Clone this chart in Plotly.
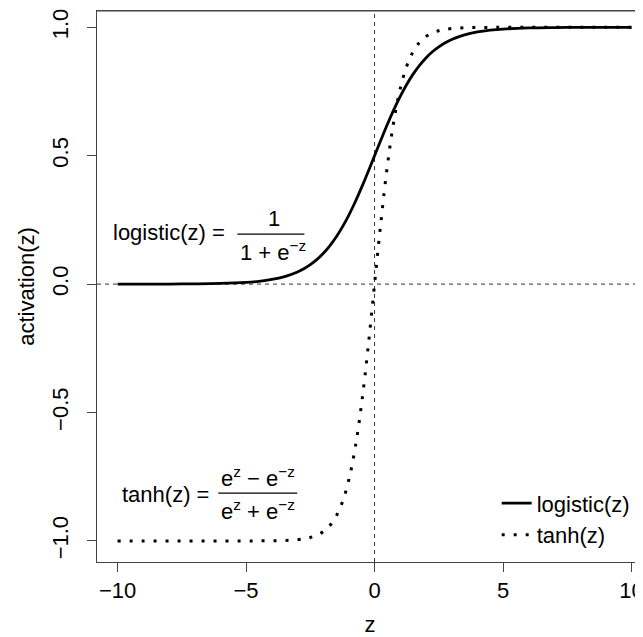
import plotly.graph_objects as go

# sampled readings of the two curves
z = [-10, -9, -8, -7, -6, -5, -4.5, -4, -3.5, -3, -2.75, -2.5, -2.25, -2, -1.75, -1.5, -1.25, -1,
     -0.75, -0.5, -0.25, 0, 0.25, 0.5, 0.75, 1, 1.25, 1.5, 1.75, 2, 2.25, 2.5, 2.75, 3, 3.5, 4,
     4.5, 5, 6, 7, 8, 9, 10]
logistic_vals = [0.0000, 0.0001, 0.0003, 0.0009, 0.0025, 0.0067, 0.0110, 0.0180, 0.0293, 0.0474,
                 0.0601, 0.0759, 0.0953, 0.1192, 0.1480, 0.1824, 0.2227, 0.2689, 0.3208, 0.3775,
                 0.4378, 0.5000, 0.5622, 0.6225, 0.6792, 0.7311, 0.7773, 0.8176, 0.8520, 0.8808,
                 0.9047, 0.9241, 0.9399, 0.9526, 0.9707, 0.9820, 0.9890, 0.9933, 0.9975, 0.9991,
                 0.9997, 0.9999, 1.0000]
tanh_vals = [-1.0000, -1.0000, -1.0000, -1.0000, -1.0000, -0.9999, -0.9998, -0.9993, -0.9982,
             -0.9951, -0.9919, -0.9866, -0.9780, -0.9640, -0.9414, -0.9051, -0.8483, -0.7616,
             -0.6351, -0.4621, -0.2449, 0.0000, 0.2449, 0.4621, 0.6351, 0.7616, 0.8483, 0.9051,
             0.9414, 0.9640, 0.9780, 0.9866, 0.9919, 0.9951, 0.9982, 0.9993, 0.9998, 0.9999,
             1.0000, 1.0000, 1.0000, 1.0000, 1.0000]

x_ticks = [-10, -5, 0, 5, 10]
x_ticktext = ["\u221210", "\u22125", "0", "5", "10"]
y_ticks = [-1.0, -0.5, 0.0, 0.5, 1.0]
y_ticktext = ["\u22121.0", "\u22120.5", "0.0", "0.5", "1.0"]

FONT = "Liberation Sans, Arial, Helvetica, sans-serif"
FS = 22

fig = go.Figure()
fig.add_trace(go.Scatter(x=z, y=logistic_vals, mode="lines", name="logistic(z)",
                         line=dict(color="black", width=2.8, shape="spline")))
fig.add_trace(go.Scatter(x=z, y=tanh_vals, mode="lines", name="tanh(z)",
                         line=dict(color="black", width=3, dash="3px,9px", shape="spline")))

# reference lines at 0
fig.add_shape(type="line", xref="x", yref="paper", x0=0, x1=0, y0=0, y1=1,
              line=dict(color="#333", width=1, dash="4px,4px"), layer="below")
fig.add_shape(type="line", xref="paper", yref="y", x0=0, x1=1, y0=0, y1=0,
              line=dict(color="#333", width=1, dash="4px,4px"), layer="below")
# top edge of the plot frame
fig.add_shape(type="line", xref="paper", yref="paper", x0=0, x1=1, y0=1, y1=1,
              line=dict(color="#444", width=1))

# formula: logistic
fig.add_annotation(x=-5.75, y=0.2, xref="x", yref="y", text="logistic(z) =", showarrow=False,
                   xanchor="right", yanchor="middle", font=dict(family=FONT, size=FS, color="black"))
fig.add_shape(type="line", xref="x", yref="y", x0=-5.34, x1=-2.73, y0=0.195, y1=0.195,
              line=dict(color="black", width=1.2))
fig.add_annotation(x=-3.9, y=0.257, xref="x", yref="y", text="1", showarrow=False,
                   xanchor="center", yanchor="middle", font=dict(family=FONT, size=FS, color="black"))
fig.add_annotation(x=-3.95, y=0.13, xref="x", yref="y", text="1 + e<sup>\u2212z</sup>", showarrow=False,
                   xanchor="center", yanchor="middle", font=dict(family=FONT, size=FS, color="black"))

# formula: tanh
fig.add_annotation(x=-6.35, y=-0.82, xref="x", yref="y", text="tanh(z) =", showarrow=False,
                   xanchor="right", yanchor="middle", font=dict(family=FONT, size=FS, color="black"))
fig.add_shape(type="line", xref="x", yref="y", x0=-6.08, x1=-3.01, y0=-0.814, y1=-0.814,
              line=dict(color="black", width=1.2))
fig.add_annotation(x=-4.55, y=-0.75, xref="x", yref="y", text="e<sup>z</sup> \u2212 e<sup>\u2212z</sup>",
                   showarrow=False, xanchor="center", yanchor="middle",
                   font=dict(family=FONT, size=FS, color="black"))
fig.add_annotation(x=-4.55, y=-0.88, xref="x", yref="y", text="e<sup>z</sup> + e<sup>\u2212z</sup>",
                   showarrow=False, xanchor="center", yanchor="middle",
                   font=dict(family=FONT, size=FS, color="black"))

fig.update_layout(
    width=643, height=629,
    margin=dict(l=89, r=8, t=3, b=75, autoexpand=False),
    paper_bgcolor="white", plot_bgcolor="white",
    font=dict(family=FONT, size=FS, color="black"),
    showlegend=True,
    legend=dict(x=0.732, y=0.1445, xanchor="left", yanchor="top", bgcolor="rgba(0,0,0,0)",
                font=dict(family=FONT, size=FS, color="black"), tracegroupgap=0),
    xaxis=dict(range=[-10.8, 10.445], showgrid=False, zeroline=False, automargin=False,
               showline=True, linecolor="#444", linewidth=1, mirror=True,
               ticks="outside", ticklen=9, tickcolor="#444", tickwidth=1,
               tickvals=x_ticks, ticktext=x_ticktext, ticklabeloverflow="allow",
               title=dict(text="z", font=dict(family=FONT, size=FS), standoff=15)),
    yaxis=dict(range=[-1.0821, 1.0635], showgrid=False, zeroline=False, automargin=False,
               showline=True, linecolor="#444", linewidth=1,
               ticks="outside", ticklen=9, tickcolor="#444", tickwidth=1,
               tickvals=y_ticks, ticktext=y_ticktext, tickangle=-90, ticklabelstandoff=10,
               ticklabeloverflow="allow",
               title=dict(text="activation(z)", font=dict(family=FONT, size=FS), standoff=7)),
)

fig.write_html("out.html")
